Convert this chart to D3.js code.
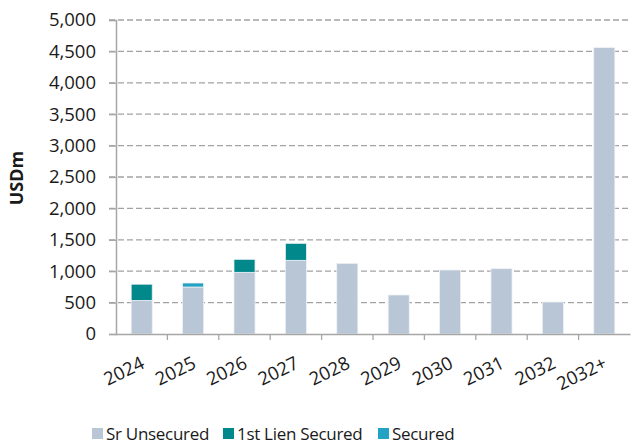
<!DOCTYPE html>
<html><head><meta charset="utf-8">
<script src="https://cdn.jsdelivr.net/npm/d3@7"></script>
<style>body{margin:0;background:#fff}svg{display:block}text{font-family:"Open Sans",sans-serif;fill:#1a1a1a}</style>
</head><body>
<script>
const categories = ["2024","2025","2026","2027","2028","2029","2030","2031","2032","2032+"];
const srUnsecured = [535, 748, 982, 1173, 1125, 621, 1019, 1040, 510, 4560];
const firstLien = [258, 0, 207, 271, 0, 0, 0, 0, 0, 0];
const secured = [0, 64, 0, 0, 0, 0, 0, 0, 0, 0];
const seriesNames = ["Sr Unsecured", "1st Lien Secured", "Secured"];
const seriesColors = ["#b8c6d6", "#00888a", "#22a3c4"];
const yTicks = [0, 500, 1000, 1500, 2000, 2500, 3000, 3500, 4000, 4500, 5000];

const W = 631, H = 444;
const m = {left: 116, right: 1, top: 20, bottom: 110};
const svg = d3.select("body").append("svg").attr("width", W).attr("height", H);

const rows = categories.map((c, i) => ({cat: c, s0: srUnsecured[i], s1: firstLien[i], s2: secured[i]}));
const stack = d3.stack().keys(["s0", "s1", "s2"])(rows);

const x = d3.scaleBand().domain(categories).range([m.left, W - m.right]).paddingInner(0.59).paddingOuter(0.295);
const xTick = d3.scaleBand().domain(categories).range([m.left, W - m.right]);
const y = d3.scaleLinear().domain([0, 5000]).range([H - m.bottom, m.top]);

// gridlines
svg.append("g").selectAll("line").data(yTicks.filter(d => d > 0)).join("line")
  .attr("x1", m.left - 7).attr("x2", W - m.right)
  .attr("y1", d => y(d)).attr("y2", d => y(d))
  .attr("stroke", "#a3a3a3").attr("stroke-width", 1.3).attr("stroke-dasharray", "6,3");

// bars
svg.append("g").selectAll("g").data(stack).join("g")
  .attr("fill", (d, i) => seriesColors[i])
  .selectAll("rect").data(d => d.filter(v => v[1] - v[0] > 0)).join("rect")
  .attr("x", d => x(d.data.cat)).attr("width", x.bandwidth())
  .attr("y", d => y(d[1])).attr("height", d => y(d[0]) - y(d[1]))
  .attr("stroke", "#eef1f4").attr("stroke-width", 0.8);

// y axis
const ya = svg.append("g").attr("transform", `translate(${m.left},0)`)
  .call(d3.axisLeft(y).tickValues(yTicks).tickFormat(d3.format(",")).tickSize(7).tickPadding(13));
ya.select(".domain").attr("stroke", "#a6a6a6").attr("stroke-width", 1.5);
ya.selectAll(".tick line").attr("stroke", "#a6a6a6").attr("stroke-width", 1.3);
ya.selectAll("text").attr("font-size", 18.5).attr("font-family", "Open Sans").attr("fill", "#1a1a1a");

// x axis
const xa = svg.append("g").attr("transform", `translate(0,${H - m.bottom})`)
  .call(d3.axisBottom(xTick).tickSize(0).tickFormat(""));
xa.select(".domain").attr("stroke", "#a6a6a6").attr("stroke-width", 1.5);
xa.selectAll(".tick").remove();
svg.append("g").selectAll("line").data(categories.slice(1)).join("line")
  .attr("x1", d => xTick(d)).attr("x2", d => xTick(d))
  .attr("y1", H - m.bottom).attr("y2", H - m.bottom + 6)
  .attr("stroke", "#a6a6a6").attr("stroke-width", 1.3);
svg.append("g").selectAll("text").data(categories).join("text")
  .attr("transform", d => `translate(${xTick(d) + xTick.bandwidth() / 2 - 2},${H - m.bottom + 21}) rotate(-26)`)
  .attr("text-anchor", "end").attr("dy", "0.75em")
  .attr("font-size", 18.5).text(d => d);

// y title
svg.append("text").attr("transform", `translate(23,178) rotate(-90)`)
  .attr("text-anchor", "middle").attr("font-weight", "bold").attr("font-size", 18).text("USDm");

// legend
const legX = [92, 223, 378];
const lg = svg.append("g").selectAll("g").data(seriesNames).join("g")
  .attr("transform", (d, i) => `translate(${legX[i]},428)`);
lg.append("rect").attr("width", 11).attr("height", 11).attr("fill", (d, i) => seriesColors[i]);
lg.append("text").attr("x", 14).attr("y", 6).attr("dy", "0.36em").attr("font-size", 17).attr("letter-spacing", -0.3).text(d => d);
</script>
</body></html>
